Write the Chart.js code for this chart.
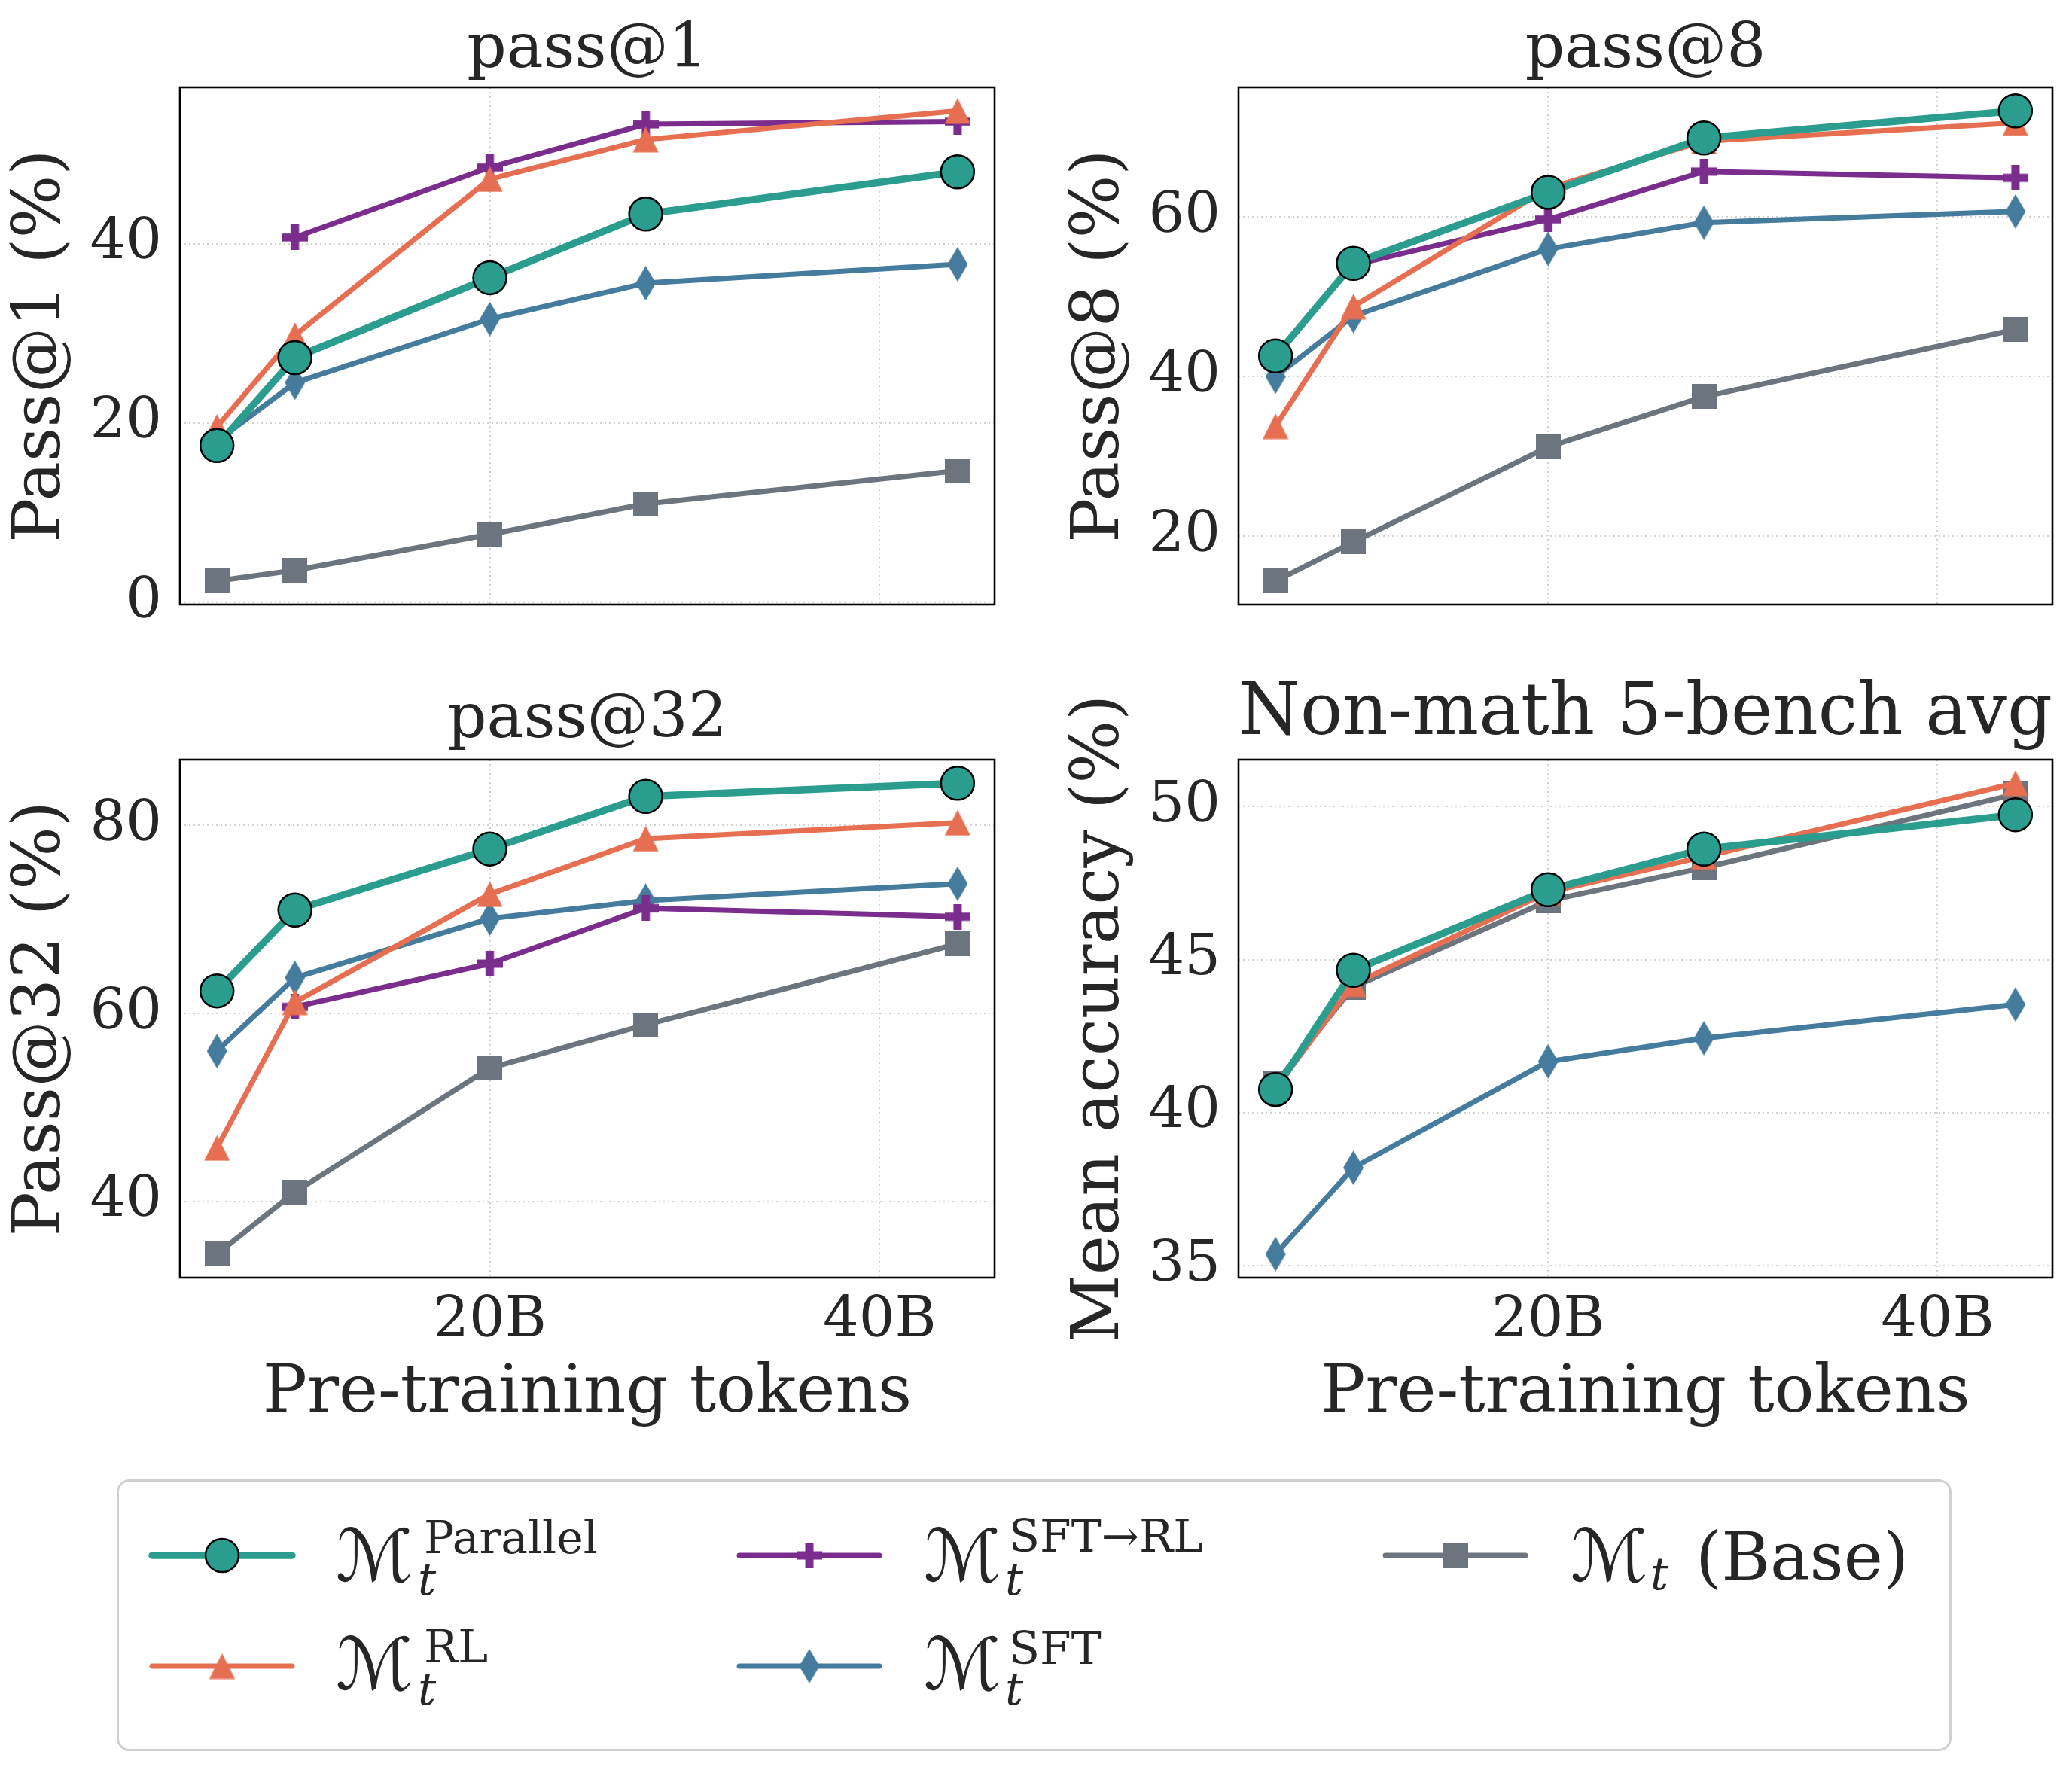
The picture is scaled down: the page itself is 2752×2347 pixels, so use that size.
<!DOCTYPE html>
<html>
<head>
<meta charset="utf-8">
<script src="https://cdn.jsdelivr.net/npm/chart.js@4.4.1/dist/chart.umd.min.js"></script>
<style>
html,body{margin:0;padding:0;background:#ffffff;}
body{width:2752px;height:2347px;position:relative;overflow:hidden;font-family:"DejaVu Serif",serif;color:#262626;}
canvas.panel{position:absolute;}
#legendBox{position:absolute;left:155px;top:1965px;width:2437px;height:361px;border:3px solid #d0d0d0;border-radius:17px;box-sizing:border-box;background:#fff;}
.sw{position:absolute;}
.lt{position:absolute;white-space:nowrap;line-height:1;color:#262626;font-family:"DejaVu Serif","DejaVu Sans",serif;}
.M{font-size:96px;}
.sup{font-size:60px;}
.sub{font-size:60px;font-style:italic;}
.big{font-size:88px;}
</style>
</head>
<body>
<canvas id="c1" class="panel"></canvas>
<canvas id="c2" class="panel"></canvas>
<canvas id="c3" class="panel"></canvas>
<canvas id="c4" class="panel"></canvas>

<div id="legendBox"></div>
<!-- legend row 1 -->
<canvas id="s1" class="sw" style="left:195px;top:2036px"></canvas>
<span class="lt M" style="left:446px;top:2019px">ℳ</span>
<span class="lt sup" style="left:563px;top:2012px">Parallel</span>
<span class="lt sub" style="left:555px;top:2067px">t</span>

<canvas id="s3" class="sw" style="left:975px;top:2036px"></canvas>
<span class="lt M" style="left:1227px;top:2019px">ℳ</span>
<span class="lt sup" style="left:1340px;top:2010px">SFT→RL</span>
<span class="lt sub" style="left:1335px;top:2067px">t</span>

<canvas id="s5" class="sw" style="left:1833px;top:2036px"></canvas>
<span class="lt M" style="left:2086px;top:2019px">ℳ</span>
<span class="lt sub" style="left:2192px;top:2060px">t</span>
<span class="lt big" style="left:2252px;top:2024px">(Base)</span>

<!-- legend row 2 -->
<canvas id="s2" class="sw" style="left:195px;top:2183px"></canvas>
<span class="lt M" style="left:446px;top:2163px">ℳ</span>
<span class="lt sup" style="left:563px;top:2157px">RL</span>
<span class="lt sub" style="left:555px;top:2213px">t</span>

<canvas id="s4" class="sw" style="left:975px;top:2183px"></canvas>
<span class="lt M" style="left:1227px;top:2163px">ℳ</span>
<span class="lt sup" style="left:1340px;top:2159px">SFT</span>
<span class="lt sub" style="left:1335px;top:2213px">t</span>

<script>
// ---------------- DATA ----------------
const xTokens = [6, 10, 20, 28, 44];           // pre-training tokens (B)
const xTickValues = [20, 40];
const xTickLabels = ['20B', '40B'];

const seriesNames = ['Parallel', 'RL', 'SFT→RL', 'SFT', 'Base'];

// pass@1
const p1Parallel = [17.5, 27.3, 36.2, 43.3, 48.0];
const p1RL       = [19.6, 29.8, 47.2, 51.6, 54.8];
const p1SFTRL    = [null, 40.7, 48.5, 53.3, 53.6];
const p1SFT      = [18.0, 24.5, 31.6, 35.6, 37.7];
const p1Base     = [2.4, 3.6, 7.6, 11.0, 14.7];
const p1Ticks    = [0, 20, 40];

// pass@8
const p8Parallel = [42.6, 54.2, 63.1, 69.9, 73.3];
const p8RL       = [33.8, 48.8, 63.6, 69.5, 71.8];
const p8SFTRL    = [null, 54.0, 59.7, 65.7, 64.9];
const p8SFT      = [40.0, 47.6, 56.0, 59.3, 60.7];
const p8Base     = [14.4, 19.3, 31.2, 37.5, 45.9];
const p8Ticks    = [20, 40, 60];

// pass@32
const p32Parallel = [62.4, 71.0, 77.5, 83.1, 84.5];
const p32RL       = [45.7, 61.2, 72.7, 78.6, 80.3];
const p32SFTRL    = [null, 60.7, 65.3, 71.2, 70.3];
const p32SFT      = [56.0, 63.8, 70.1, 72.0, 73.8];
const p32Base     = [34.4, 41.0, 54.2, 58.8, 67.4];
const p32Ticks    = [40, 60, 80];

// Non-math 5-bench avg
const nmParallel = [40.76, 44.65, 47.28, 48.61, 49.73];
const nmRL       = [40.8, 44.2, 47.2, 48.36, 50.76];
const nmSFTRL    = [null, null, null, null, null];
const nmSFT      = [35.38, 38.2, 41.67, 42.43, 43.53];
const nmBase     = [40.96, 44.1, 46.92, 48.0, 50.4];
const nmTicks    = [35, 40, 45, 50];

// ---------------- STYLE ----------------
const COL = {parallel:'#2a9d8f', rl:'#e76f51', sftrl:'#7b2d8e', sft:'#457b9d', base:'#6c757d'};
const TEXT = '#262626';
Chart.defaults.font.family = "'DejaVu Serif', serif";
Chart.defaults.color = TEXT;
const LW = 7, LW_MAIN = 9.5;
const TICK_FS = 75, AXIS_FS = 88;

function mk(w, h, draw){ const c = document.createElement('canvas'); c.width = w; c.height = h; draw(c.getContext('2d'), w, h); return c; }
const triImg = mk(35, 35, (g,w,h)=>{ g.fillStyle = COL.rl; g.beginPath(); g.moveTo(w/2, 0.5); g.lineTo(w-0.5, h-0.5); g.lineTo(0.5, h-0.5); g.closePath(); g.fill(); });
const plusImg = mk(34, 34, (g,w,h)=>{ g.fillStyle = COL.sftrl; const t = 11; g.fillRect((w-t)/2, 0, t, h); g.fillRect(0, (h-t)/2, w, t); });
const diaImg = mk(27, 46, (g,w,h)=>{ g.fillStyle = COL.sft; g.beginPath(); g.moveTo(w/2, 0); g.lineTo(w, h/2); g.lineTo(w/2, h); g.lineTo(0, h/2); g.closePath(); g.fill(); });
const sqImg = mk(33, 33, (g,w,h)=>{ g.fillStyle = COL.base; g.fillRect(0, 0, w, h); });

function ds(label, vals, color, style, width, extra){
  return Object.assign({
    label, data: xTokens.map((x,i)=>({x, y: vals[i]})),
    borderColor: color, backgroundColor: color, borderWidth: width,
    pointStyle: style, pointRadius: 16, pointHoverRadius: 16, pointBorderWidth: 0,
    borderJoinStyle: 'round', borderCapStyle: 'round', tension: 0, spanGaps: false
  }, extra || {});
}

const boxPlugin = {
  id: 'axesBox',
  afterDatasetsDraw(chart){
    const {ctx, chartArea:a} = chart;
    ctx.save(); ctx.strokeStyle = '#000'; ctx.lineWidth = 2.6;
    ctx.strokeRect(a.left, a.top, a.right - a.left, a.bottom - a.top);
    ctx.restore();
  }
};

const xMin = Math.min(...xTokens) - 0.05*(Math.max(...xTokens)-Math.min(...xTokens));
const xMax = Math.max(...xTokens) + 0.05*(Math.max(...xTokens)-Math.min(...xTokens));

function makePanel(id, geom, title, tf, yTitle, yTicks, s, showX){
  const canvas = document.getElementById(id);
  const LEFT = 239, TOP = 130, RIGHT = 30, BOTTOM = showX ? 208 : 80;
  const areaW = geom.R - geom.L, areaH = geom.B - geom.T;
  canvas.width = LEFT + areaW + RIGHT; canvas.height = TOP + areaH + BOTTOM;
  canvas.style.left = (geom.L - LEFT) + 'px'; canvas.style.top = (geom.T - TOP) + 'px';
  const all = [].concat(...s).filter(v => v !== null);
  const mn = Math.min(...all), mx = Math.max(...all), pd = (mx - mn) * 0.05;
  const gridCol = '#d2d2d2';
  new Chart(canvas, {
    type: 'line',
    data: { datasets: [
      ds(seriesNames[0], s[0], COL.parallel, 'circle', LW_MAIN, {pointRadius: 22, pointHoverRadius: 22, pointBorderColor: '#000', pointBorderWidth: 2.5, pointBackgroundColor: COL.parallel}),
      ds(seriesNames[1], s[1], COL.rl, triImg, LW),
      ds(seriesNames[2], s[2], COL.sftrl, plusImg, LW),
      ds(seriesNames[3], s[3], COL.sft, diaImg, LW),
      ds(seriesNames[4], s[4], COL.base, sqImg, LW)
    ]},
    options: {
      responsive: false, animation: false, devicePixelRatio: 1,
      layout: { padding: {left: 0, top: 0, right: RIGHT, bottom: 0} },
      plugins: {
        legend: {display: false}, tooltip: {enabled: false},
        title: {display: true, text: title, fullSize: false, color: TEXT,
                font: {size: tf.size, weight: 'normal'},
                padding: {top: tf.pt, bottom: TOP - tf.size*1.2 - tf.pt}}
      },
      scales: {
        x: {
          type: 'linear', min: xMin, max: xMax,
          afterBuildTicks: sc => { sc.ticks = xTickValues.map(v => ({value: v})); },
          afterFit: sc => { sc.height = BOTTOM; },
          ticks: {display: showX, autoSkip: false, maxRotation: 0, padding: 14, font: {size: TICK_FS},
                  callback: (v, i) => xTickLabels[i]},
          grid: {color: gridCol, lineWidth: 2, drawTicks: false},
          border: {display: false, dash: [2, 4]},
          title: {display: showX, text: 'Pre-training tokens', font: {size: AXIS_FS}, padding: {top: 0, bottom: 0}}
        },
        y: {
          type: 'linear', min: mn - pd, max: mx + pd,
          afterBuildTicks: sc => { sc.ticks = yTicks.map(v => ({value: v})); },
          afterFit: sc => { sc.width = LEFT; },
          ticks: {padding: 24, font: {size: TICK_FS}, callback: v => String(v)},
          grid: {color: gridCol, lineWidth: 2, drawTicks: false},
          border: {display: false, dash: [2, 4]},
          title: {display: true, text: yTitle, font: {size: AXIS_FS}, padding: {top: 3, bottom: 0}}
        }
      }
    },
    plugins: [boxPlugin]
  });
}

makePanel('c1', {L:239, T:116, R:1321, B:803}, 'pass@1', {size:82, pt:33}, 'Pass@1 (%)', p1Ticks,
  [p1Parallel, p1RL, p1SFTRL, p1SFT, p1Base], false);
makePanel('c2', {L:1645, T:116, R:2726, B:803}, 'pass@8', {size:82, pt:33}, 'Pass@8 (%)', p8Ticks,
  [p8Parallel, p8RL, p8SFTRL, p8SFT, p8Base], false);
makePanel('c3', {L:239, T:1009, R:1321, B:1697}, 'pass@32', {size:82, pt:30}, 'Pass@32 (%)', p32Ticks,
  [p32Parallel, p32RL, p32SFTRL, p32SFT, p32Base], true);
makePanel('c4', {L:1645, T:1009, R:2726, B:1697}, 'Non-math 5-bench avg', {size:95, pt:14}, 'Mean accuracy (%)', nmTicks,
  [nmParallel, nmRL, nmSFTRL, nmSFT, nmBase], true);

// ---------------- LEGEND SAMPLES ----------------
function sample(id, color, width, marker){
  const c = document.getElementById(id); c.width = 200; c.height = 60;
  const g = c.getContext('2d');
  g.strokeStyle = color; g.lineWidth = width; g.lineCap = 'round';
  g.beginPath(); g.moveTo(7, 30); g.lineTo(193, 30); g.stroke();
  marker(g, 100, 30);
}
function imgMarker(img){ return (g,x,y) => g.drawImage(img, x - img.width/2, y - img.height/2); }
sample('s1', COL.parallel, LW_MAIN, (g,x,y)=>{ g.beginPath(); g.arc(x, y, 22, 0, Math.PI*2); g.fillStyle = COL.parallel; g.fill(); g.lineWidth = 2.5; g.strokeStyle = '#000'; g.stroke(); });
sample('s2', COL.rl, LW, imgMarker(triImg));
sample('s3', COL.sftrl, LW, imgMarker(plusImg));
sample('s4', COL.sft, LW, imgMarker(diaImg));
sample('s5', COL.base, LW, imgMarker(sqImg));
</script>
</body>
</html>
